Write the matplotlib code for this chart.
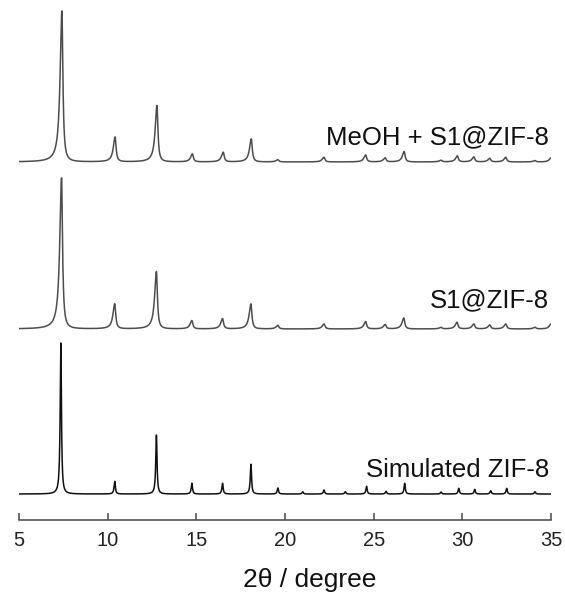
import numpy as np
import matplotlib
matplotlib.use("Agg")
import matplotlib.pyplot as plt

plt.rcParams['font.family'] = ['Liberation Sans', 'DejaVu Sans']

# Peak lists (2theta in degree, relative height)
sim_pos = [7.36, 10.40, 12.75, 14.75, 16.48, 18.08, 19.60, 21.0, 22.2, 23.4, 24.6, 25.7,
           26.75, 28.8, 29.8, 30.7, 31.6, 32.5, 34.1]
sim_h = [1.0, 0.084, 0.39, 0.071, 0.071, 0.197, 0.04, 0.015, 0.027, 0.015, 0.051, 0.018,
         0.071, 0.013, 0.038, 0.031, 0.022, 0.038, 0.015]

s1_pos = [7.40, 10.40, 12.75, 14.75, 16.48, 18.08, 19.60, 22.2, 24.55, 25.65, 26.7, 28.8,
          29.7, 30.65, 31.55, 32.45, 34.1, 35.0]
s1_h = [1.0, 0.166, 0.38, 0.055, 0.068, 0.166, 0.024, 0.033, 0.049, 0.029, 0.073, 0.01,
        0.044, 0.033, 0.026, 0.033, 0.011, 0.033]

meoh_pos = [7.42, 10.42, 12.78, 14.78, 16.52, 18.10, 19.60, 22.2, 24.55, 25.65, 26.72, 28.8,
            29.72, 30.65, 31.55, 32.45, 34.1, 35.0]
meoh_h = [1.0, 0.164, 0.374, 0.053, 0.064, 0.153, 0.015, 0.031, 0.046, 0.027, 0.069, 0.011,
          0.04, 0.033, 0.024, 0.031, 0.009, 0.027]

labels = ["Simulated ZIF-8", "S1@ZIF-8", "MeOH + S1@ZIF-8"]
xticks = [5, 10, 15, 20, 25, 30, 35]

x = np.linspace(5, 35, 6001)

def pattern(pos, h, fwhm_l, fwhm_r):
    y = np.zeros_like(x)
    for p, a in zip(pos, h):
        g = np.where(x < p, fwhm_l / 2, fwhm_r / 2)
        y += a / (1 + ((x - p) / g) ** 2)
    return y

traces = [pattern(sim_pos, sim_h, 0.09, 0.08),
          pattern(s1_pos, s1_h, 0.24, 0.13),
          pattern(meoh_pos, meoh_h, 0.24, 0.13)]
offsets = [0.172, 1.265, 2.371]
colors = ["#111111", "#4d4d4d", "#4d4d4d"]
label_y = [0.331, 1.457, 2.536]

fig = plt.figure(figsize=(5.65, 5.92), dpi=100)
ax = fig.add_axes([19 / 565, 1 - 520 / 592, (551 - 19) / 565, 520 / 592])

for t, off, c, lab, ly in zip(traces, offsets, colors, labels, label_y):
    ax.plot(x, t + off, color=c, lw=1.1)
    ax.text(34.9, ly, lab, ha='right', va='center', fontsize=18.5, color='#111111')

ax.set_xlim(5, 35)
ax.set_ylim(0, 520 / 151)
for s in ['top', 'left', 'right']:
    ax.spines[s].set_visible(False)
ax.spines['bottom'].set_color('#555555')
ax.spines['bottom'].set_linewidth(1.2)
ax.set_yticks([])
ax.set_xticks(xticks)
ax.tick_params(axis='x', direction='in', length=5, width=1.2, color='#555555',
               labelsize=14.5, pad=8, labelcolor='#222222')
ax.set_xlabel("2θ / degree", fontsize=19, color='#111111', va='baseline')
ax.xaxis.set_label_coords(0.546, -67 / 520)
ax.patch.set_alpha(0)

fig.savefig("out.png", dpi=100)
